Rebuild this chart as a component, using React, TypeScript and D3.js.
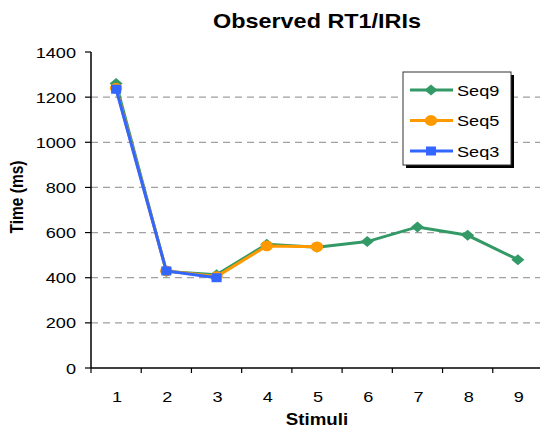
import React from "react";
import * as d3 from "d3";

const categories = ["1", "2", "3", "4", "5", "6", "7", "8", "9"];
const seq9 = [1260, 428, 413, 548, 535, 560, 625, 588, 480];
const seq5 = [1240, 430, 405, 541, 537];
const seq3 = [1235, 430, 400];
const yTicks = [0, 200, 400, 600, 800, 1000, 1200, 1400];
const seriesNames = ["Seq9", "Seq5", "Seq3"];
const colors = { Seq9: "#339966", Seq5: "#FF9900", Seq3: "#3366FF" };

const W = 540;
const H = 430;
const left = 91;
const right = 543;
const top = 52;
const bottom = 368;
const SX = 1.17;
const FONT = "'Liberation Sans', Arial, sans-serif";

function Marker({ name, x, y }: { name: string; x: number; y: number }) {
  const c = (colors as any)[name];
  if (name === "Seq9") {
    const w = 6.5, h = 5.5;
    return <path d={`M${x},${y - h}L${x + w},${y}L${x},${y + h}L${x - w},${y}Z`} fill={c} />;
  }
  if (name === "Seq5") {
    return <ellipse cx={x} cy={y} rx={6.2} ry={5.4} fill={c} />;
  }
  return <rect x={x - 5} y={y - 4.5} width={10} height={9} fill={c} />;
}

export default function App() {
  const x = d3.scaleBand<string>().domain(categories).range([left, right]);
  const y = d3.scaleLinear().domain([0, 1400]).range([bottom, top]);
  const cx = (c: string) => (x(c) as number) + x.bandwidth() / 2;
  const data: Record<string, number[]> = { Seq9: seq9, Seq5: seq5, Seq3: seq3 };
  const line = d3
    .line<number>()
    .x((_, i) => cx(categories[i]))
    .y((d) => y(d));
  const plotCenter = (left + right) / 2;
  const drawOrder = ["Seq9", "Seq5", "Seq3"];
  const legendX = 403, legendY = 72, legendW = 108, legendH = 93;

  return (
    <svg
      width={W}
      height={H}
      style={{ position: "absolute", left: 0, top: 0, background: "#fff" }}
      fontFamily={FONT}
    >
      <rect width={W} height={H} fill="#fff" />
      {/* title */}
      <text
        transform={`translate(${plotCenter},28) scale(${SX},1)`}
        textAnchor="middle"
        fontSize={20}
        fontWeight="bold"
      >
        Observed RT1/IRIs
      </text>
      {/* gridlines */}
      {yTicks
        .filter((t) => t > 0 && t < 1400)
        .map((t) => (
          <line
            key={"g" + t}
            x1={left}
            x2={right}
            y1={y(t)}
            y2={y(t)}
            stroke="#a0a0a0"
            strokeWidth={1.3}
            strokeDasharray="7,5"
          />
        ))}
      {/* y axis */}
      <line x1={left} x2={left} y1={top} y2={bottom} stroke="#000" strokeWidth={1.5} />
      {yTicks.map((t) => (
        <g key={"y" + t}>
          <line x1={left - 6} x2={left} y1={y(t)} y2={y(t)} stroke="#000" strokeWidth={1.2} />
          <text
            transform={`translate(76,${y(t) + 5.5}) scale(${SX},1)`}
            textAnchor="end"
            fontSize={15.5}
          >
            {t}
          </text>
        </g>
      ))}
      {/* x axis */}
      <line x1={left} x2={right} y1={bottom} y2={bottom} stroke="#000" strokeWidth={1.5} />
      {categories.map((c) => (
        <line
          key={"xt" + c}
          x1={x(c) as number}
          x2={x(c) as number}
          y1={bottom}
          y2={bottom + 5}
          stroke="#000"
          strokeWidth={1.2}
        />
      ))}
      {categories.map((c) => (
        <text
          key={"xl" + c}
          transform={`translate(${cx(c) + 1},402) scale(${SX},1)`}
          textAnchor="middle"
          fontSize={15.5}
        >
          {c}
        </text>
      ))}
      {/* axis titles */}
      <text
        transform={`translate(${plotCenter},425) scale(${SX},1)`}
        textAnchor="middle"
        fontSize={16}
        fontWeight="bold"
      >
        Stimuli
      </text>
      <text
        transform={`translate(23,197) scale(${SX},1) rotate(-90)`}
        textAnchor="middle"
        fontSize={15.5}
        fontWeight="bold"
      >
        Time (ms)
      </text>
      {/* series */}
      {drawOrder.map((name) => (
        <g key={name}>
          <path d={line(data[name]) as string} fill="none" stroke={(colors as any)[name]} strokeWidth={3} />
          {data[name].map((v, i) => (
            <Marker key={i} name={name} x={cx(categories[i])} y={y(v)} />
          ))}
        </g>
      ))}
      {/* legend */}
      <rect x={legendX + 3} y={legendY + 3} width={legendW} height={legendH} fill="#000" />
      <rect x={legendX} y={legendY} width={legendW} height={legendH} fill="#fff" stroke="#333" strokeWidth={1} />
      {seriesNames.map((name, i) => {
        const ly = 90 + i * 30.5;
        return (
          <g key={"lg" + name}>
            <line x1={410} x2={453} y1={ly} y2={ly} stroke={(colors as any)[name]} strokeWidth={3} />
            <Marker name={name} x={431} y={ly} />
            <text transform={`translate(457,${ly + 5.5}) scale(${SX},1)`} fontSize={15.5}>
              {name}
            </text>
          </g>
        );
      })}
    </svg>
  );
}
